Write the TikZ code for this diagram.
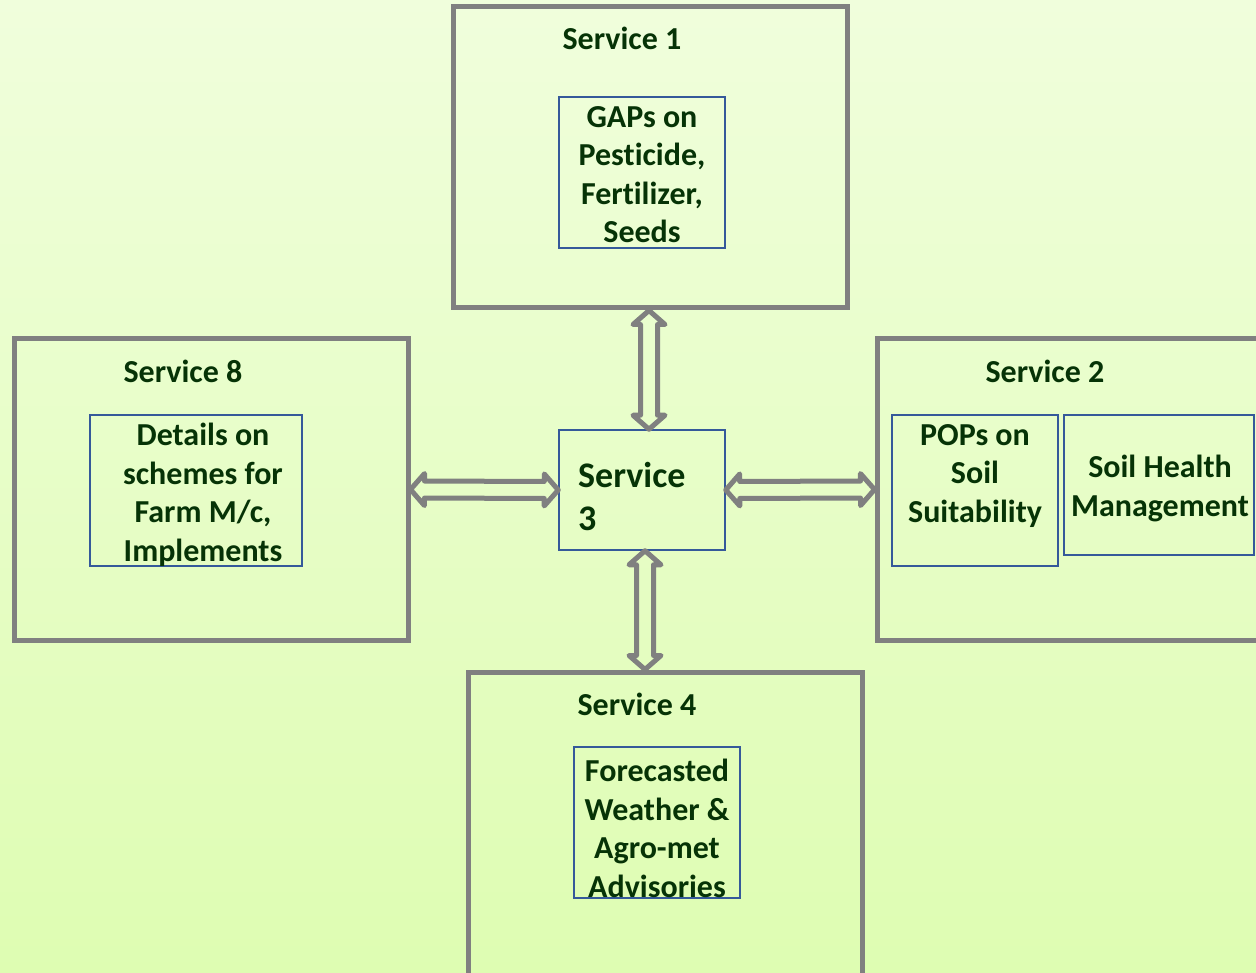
\documentclass[tikz,border=0pt]{standalone}
\usepackage{fontspec}
\setmainfont[Ligatures=NoCommon,Contextuals=NoAlternate]{Carlito}
\usetikzlibrary{calc}
\definecolor{txt}{HTML}{063306}
\definecolor{frame}{HTML}{808080}
\definecolor{inner}{HTML}{35599A}
\definecolor{bgtop}{HTML}{F0FEDC}
\definecolor{bgbot}{HTML}{DEFDB2}
\newcommand\ah{14pt}
\newcommand\aw{16pt}
\newcommand\as{8.5pt}
\newcommand\dblarrow[2]{%
  \draw[arrowline] (#1)
    -- ($(#1)!\ah!(#2)!\aw!90:(#2)$)
    -- ($(#1)!\ah!(#2)!\as!90:(#2)$)
    -- ($(#2)!\ah!(#1)!\as!-90:(#1)$)
    -- ($(#2)!\ah!(#1)!\aw!-90:(#1)$)
    -- (#2)
    -- ($(#2)!\ah!(#1)!\aw!90:(#1)$)
    -- ($(#2)!\ah!(#1)!\as!90:(#1)$)
    -- ($(#1)!\ah!(#2)!\as!-90:(#2)$)
    -- ($(#1)!\ah!(#2)!\aw!-90:(#2)$)
    -- cycle;}
\begin{document}
\begin{tikzpicture}[x=1pt,y=-1pt,
  outerbox/.style={draw=frame,line width=5pt,rectangle,inner sep=0pt},
  innerbox/.style={draw=inner,line width=1.5pt,rectangle,inner sep=0pt},
  title/.style={text=txt,font=\fontsize{32}{38.5}\selectfont\bfseries,inner sep=0pt},
  body/.style={text=txt,font=\fontsize{32}{38.5}\selectfont\bfseries,align=center,inner sep=0pt},
  arrowline/.style={draw=frame,line width=5pt,line join=round}]
\useasboundingbox (0,0) rectangle (1256,973);
\clip (0,0) rectangle (1256,973);
\fill[top color=bgtop,bottom color=bgbot] (0,0) rectangle (1256,973);

% outer frames
\node[outerbox,minimum width=394pt,minimum height=301pt] (s1) at (650,157.5) {};
\node[outerbox,minimum width=394pt,minimum height=301pt] (s8) at (211,489.5) {};
\node[outerbox,minimum width=394pt,minimum height=301pt] (s2) at (1074,489.5) {};
\node[outerbox,minimum width=394pt,minimum height=305pt] (s4) at (665,824.5) {};

% titles
\node[title] (t1) at (622,38) {Service 1};
\node[title] (t8) at (183,371) {Service 8};
\node[title] (t2) at (1045,371) {Service 2};
\node[title] (t4) at (637,704) {Service 4};

% inner boxes
\node[innerbox,minimum width=166pt,minimum height=151pt] (gap) at (642,172.5) {};
\node[innerbox,minimum width=212pt,minimum height=151pt] (det) at (196,490.5) {};
\node[innerbox,minimum width=166pt,minimum height=120pt] (s3) at (642,490) {};
\node[innerbox,minimum width=166pt,minimum height=151pt] (pop) at (975,490.5) {};
\node[innerbox,minimum width=190pt,minimum height=140pt] (soil) at (1159,485) {};
\node[innerbox,minimum width=166pt,minimum height=151pt] (fc) at (657,822.5) {};

% texts
\node[body] (gapt) at (642,174.5) {GAPs on\\Pesticide,\\Fertilizer,\\Seeds};
\node[body] (dett) at (203,495) {Details on\\schemes for\\Farm M/c,\\Implements};
\node[body] (popt) at (975,476) {POPs on\\Soil\\Suitability};
\node[body] (soilt) at (1160,488.5) {Soil Health\\Management};
\node[body] (fct) at (657,828.5) {Forecasted\\Weather \&\\Agro-met\\Advisories};
\node[text=txt,font=\fontsize{36}{43}\selectfont\bfseries,align=left,inner sep=0pt,anchor=west] (s3t) at (578,496.5) {Service\\3};

% connector ends
\coordinate (a1) at ([xshift=-1pt]s1.south);
\coordinate (a2) at ([xshift=7pt]s3.north);
\coordinate (b1) at ([xshift=3pt]s3.south);
\coordinate (b2) at ([xshift=-20pt]s4.north);
\coordinate (c1) at (s8.east);
\coordinate (c2) at (s3.west);
\coordinate (d1) at (s3.east);
\coordinate (d2) at (s2.west);

\dblarrow{a1}{a2}
\dblarrow{b1}{b2}
\dblarrow{c1}{c2}
\dblarrow{d1}{d2}
\end{tikzpicture}
\end{document}
